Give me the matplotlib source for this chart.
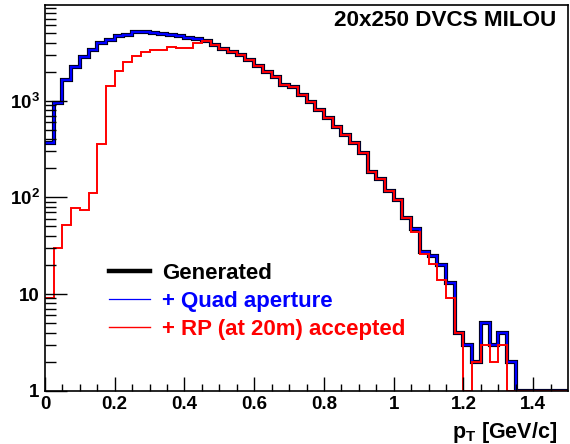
import numpy as np
import matplotlib.pyplot as plt
from matplotlib.lines import Line2D
from matplotlib.ticker import FixedLocator, NullFormatter

plt.rcParams['font.family'] = ['Liberation Sans', 'DejaVu Sans']
plt.rcParams['font.weight'] = 'bold'
plt.rcParams['mathtext.fontset'] = 'custom'
plt.rcParams['mathtext.rm'] = 'Liberation Sans:bold'
plt.rcParams['mathtext.bf'] = 'Liberation Sans:bold'
plt.rcParams['mathtext.it'] = 'Liberation Sans:bold'

# p_T histograms, 60 bins of 0.025 GeV/c from 0 to 1.5
edges = np.linspace(0, 1.5, 61)

generated = [
    369, 945, 1620, 2207, 2800, 3365, 3945, 4270, 4620, 4810,
    5080, 5170, 5010, 4840, 4770, 4620, 4480, 4370, 4170, 3765,
    3420, 3155, 2940, 2608, 2297, 1990, 1738, 1462, 1371, 1151,
    967, 805, 660, 533, 444, 364, 287, 185, 155, 115,
    94, 61, 47, 27.5, 25, 20, 13, 4, 3, 2,
    5, 3, 4, 2, 0, 0, 0, 0, 0, 0,
]
quad = list(generated)
rp_accepted = [
    9, 30, 52, 77, 74, 112, 355, 1403, 2040, 2510,
    2870, 3185, 3365, 3365, 3555, 3470, 3470, 3945, 4170, 3765,
    3420, 3155, 2940, 2608, 2297, 1990, 1738, 1462, 1371, 1151,
    967, 805, 660, 533, 444, 364, 287, 185, 155, 115,
    94, 61, 43.6, 26, 20.5, 14, 9, 4, 0, 2,
    3, 2, 3, 0, 0, 0, 0, 0, 0, 0,
]

labels = ['Generated', '+ Quad aperture', '+ RP (at 20m) accepted']
colors = ['black', '#0000ff', '#ff0000']


def floor(v):
    v = np.asarray(v, dtype=float)
    return np.where(v > 0, v, 1.0)


fig = plt.figure(figsize=(5.7, 4.44), dpi=100)
ax = fig.add_axes([45 / 570, 53.3 / 444, 523 / 570, 385.7 / 444])

ax.stairs(floor(generated), edges, baseline=None, color='black', linewidth=3.0)
ax.stairs(floor(quad), edges, baseline=None, color='#0000ff', linewidth=1.7)
ax.stairs(floor(rp_accepted), edges, baseline=None, color='#ff0000', linewidth=1.4)

ax.set_yscale('log')
ax.set_xlim(0, 1.5)
ax.set_ylim(1, 10 ** 3.99)

ax.set_xticks([0, 0.2, 0.4, 0.6, 0.8, 1.0, 1.2, 1.4])
ax.set_xticklabels(['0', '0.2', '0.4', '0.6', '0.8', '1', '1.2', '1.4'])
ax.xaxis.set_minor_locator(FixedLocator(np.arange(0, 1.5, 0.05)))
ax.set_yticks([1, 10, 100, 1000])
ax.set_yticklabels(['1', '10', r'$10^{2}$', r'$10^{3}$'])
minors = [m * 10 ** d for d in range(0, 4) for m in range(2, 10)]
ax.yaxis.set_minor_locator(FixedLocator(minors))
ax.yaxis.set_minor_formatter(NullFormatter())

ax.tick_params(axis='both', which='both', direction='in', labelsize=13.5, width=1)
ax.tick_params(axis='x', which='major', length=10, pad=4)
ax.tick_params(axis='x', which='minor', length=5)
ax.tick_params(axis='y', which='major', length=16, pad=4)
ax.tick_params(axis='y', which='minor', length=8)
for lab in ax.get_xticklabels() + ax.get_yticklabels():
    lab.set_fontweight('bold')
for sp in ax.spines.values():
    sp.set_linewidth(1.2)

fig.text(557 / 570, 1 - 432 / 444, r'p$_{T}$ [GeV/c]', ha='right', va='center',
         fontsize=15.5, fontweight='bold')

ax.text(0.977, 0.96, '20x250 DVCS MILOU', transform=ax.transAxes, ha='right',
        va='center', fontsize=16.2, fontweight='bold')

handles = [
    Line2D([0], [0], color='black', linewidth=3.2),
    Line2D([0], [0], color='#0000ff', linewidth=0.9),
    Line2D([0], [0], color='#ff0000', linewidth=1.0),
]
leg = ax.legend(handles, labels, loc='upper left', bbox_to_anchor=(0.106, 0.354),
                frameon=False, fontsize=16, handlelength=1.85, handletextpad=0.54,
                labelspacing=0.32, borderaxespad=0)
for txt, c in zip(leg.get_texts(), colors):
    txt.set_color(c)
    txt.set_fontweight('bold')

fig.savefig('out.png', dpi=100)
